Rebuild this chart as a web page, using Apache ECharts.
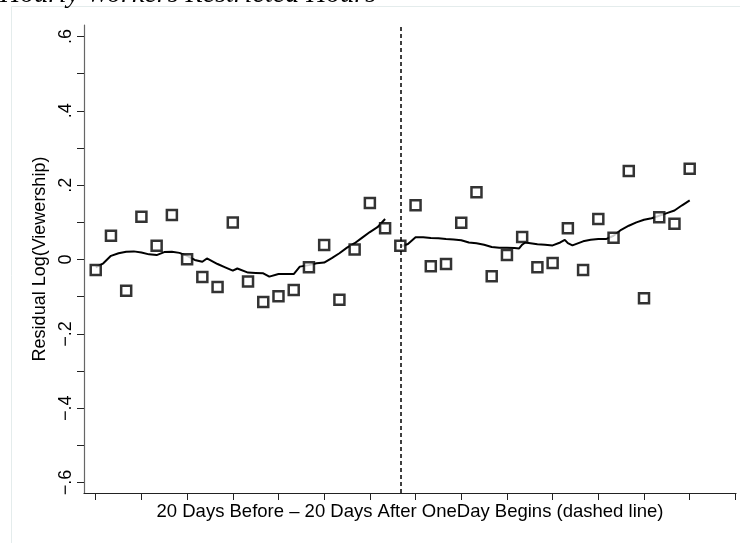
<!DOCTYPE html>
<html>
<head>
<meta charset="utf-8">
<script src="https://cdn.jsdelivr.net/npm/echarts@6/dist/echarts.min.js"></script>
<style>
  html, body { margin: 0; padding: 0; background: #fff; }
  #chart { width: 740px; height: 543px; }
</style>
</head>
<body>
<div id="chart"></div>
<script>
// days relative to OneDay start
const days = [-20, -19, -18, -17, -16, -15, -14, -13, -12, -11, -10, -9, -8, -7, -6, -5, -4, -3, -2, -1,
  0, 1, 2, 3, 4, 5, 6, 7, 8, 9, 10, 11, 12, 13, 14, 15, 16, 17, 18, 19]
// residual log(viewership), one per day
const residuals = [-0.028, 0.064, -0.084, 0.115, 0.037, 0.120, 0.001, -0.047, -0.074, 0.100,
  -0.059, -0.114, -0.099, -0.082, -0.021, 0.039, -0.108, 0.027, 0.152, 0.084,
  0.037, 0.146, -0.018, -0.012, 0.099, 0.181, -0.045, 0.012, 0.061, -0.021,
  -0.009, 0.084, -0.028, 0.109, 0.059, 0.238, -0.104, 0.114, 0.096, 0.244]

// smoothed fit before the start
const fitBeforeX = [-20, -19.5, -19, -18.5, -18, -17.5, -17, -16.5, -16, -15.5, -15, -14.5, -14, -13.5, -13, -12.7,
  -12, -11.5, -11, -10.7, -10, -9.5, -9, -8.6, -8, -7.5, -7, -6.6, -6, -5.5, -5, -4.5, -4, -3.5, -3, -2.5, -2, -1.5, -1]
const fitBeforeY = [-0.021, -0.010, 0.010, 0.017, 0.021, 0.022, 0.019, 0.014, 0.012, 0.020, 0.021, 0.018, 0.010, -0.001, -0.006, 0.003,
  -0.012, -0.021, -0.030, -0.024, -0.035, -0.036, -0.037, -0.046, -0.039, -0.039, -0.039, -0.019, -0.015, -0.010, -0.008, 0.004, 0.017, 0.032, 0.044, 0.059, 0.074, 0.087, 0.109]

// smoothed fit after the start
const fitAfterX = [0, 0.5, 1, 1.5, 2, 2.5, 3, 3.5, 4, 4.5, 5, 5.5, 6, 6.5, 7, 7.5, 7.8, 8, 8.2, 9, 9.5, 10, 10.5, 10.8,
  11, 11.3, 12, 12.5, 13, 13.5, 14, 14.5, 15, 15.5, 16, 16.5, 17, 17.5, 18, 18.5, 19]
const fitAfterY = [0.035, 0.042, 0.060, 0.060, 0.058, 0.057, 0.055, 0.054, 0.052, 0.046, 0.044, 0.040, 0.034, 0.032, 0.032, 0.031, 0.030, 0.040, 0.046, 0.041, 0.040, 0.038, 0.046, 0.053,
  0.044, 0.038, 0.049, 0.053, 0.055, 0.055, 0.064, 0.080, 0.091, 0.100, 0.107, 0.111, 0.118, 0.125, 0.132, 0.146, 0.159]

const xTicks = [-20, -17, -14, -11, -8, -5, -2, 1, 4, 7, 10, 13, 16, 19, 22]
const yTicks = [-0.6, -0.5, -0.4, -0.3, -0.2, -0.1, 0, 0.1, 0.2, 0.3, 0.4, 0.5, 0.6]
const yLabelValues = [-0.6, -0.4, -0.2, 0, 0.2, 0.4, 0.6]
const yLabelText = ['\u2212.6', '\u2212.4', '\u2212.2', '0', '.2', '.4', '.6']

const pair = (xs, ys) => xs.map((x, i) => [x, ys[i]])

const chart = echarts.init(document.getElementById('chart'), null, { renderer: 'canvas' })

const option = {
  animation: false,
  backgroundColor: '#ffffff',
  textStyle: { fontFamily: 'Liberation Sans' },
  graphic: [
    {
      type: 'rect',
      silent: true,
      shape: { x: 11.5, y: 6.5, width: 740, height: 560 },
      style: { fill: 'none', stroke: '#e4ecec', lineWidth: 1 }
    },
    {
      type: 'text',
      left: 0,
      top: -19,
      silent: true,
      style: {
        text: 'Hourly Workers Restricted Hours',
        font: 'italic 28px "Liberation Serif"',
        fill: '#000'
      }
    }
  ],
  grid: { left: 84, right: 4, top: 25, bottom: 50, containLabel: false },
  xAxis: {
    type: 'value',
    min: -20.77,
    max: 22.04,
    name: '20 Days Before \u2013 20 Days After OneDay Begins (dashed line)',
    nameLocation: 'middle',
    nameGap: 9,
    nameTextStyle: { fontSize: 18.5, color: '#000', fontFamily: 'Liberation Sans' },
    axisLine: { onZero: false, lineStyle: { color: '#222', width: 1.2 } },
    axisTick: { customValues: xTicks, length: 7, lineStyle: { color: '#222' } },
    axisLabel: { show: false },
    splitLine: { show: false }
  },
  yAxis: {
    type: 'value',
    min: -0.628,
    max: 0.631,
    name: 'Residual Log(Viewership)',
    nameLocation: 'middle',
    nameRotate: 90,
    nameGap: 33,
    nameTextStyle: { fontSize: 18, color: '#000', fontFamily: 'Liberation Sans' },
    axisLine: { show: true, onZero: false, lineStyle: { color: '#666', width: 1.2 } },
    axisTick: { customValues: yTicks, length: 7, lineStyle: { color: '#222' } },
    axisLabel: {
      customValues: yLabelValues,
      rotate: 90,
      margin: 9,
      fontSize: 18,
      color: '#000',
      fontFamily: 'Liberation Sans',
      formatter: v => {
        const i = yLabelValues.findIndex(t => Math.abs(t - v) < 1e-6)
        return i >= 0 ? yLabelText[i] : ''
      }
    },
    splitLine: { show: false }
  },
  series: [
    {
      name: 'fitBefore',
      type: 'line',
      showSymbol: false,
      data: pair(fitBeforeX, fitBeforeY),
      lineStyle: { color: '#000', width: 2 },
      z: 2
    },
    {
      name: 'fitAfter',
      type: 'line',
      showSymbol: false,
      data: pair(fitAfterX, fitAfterY),
      lineStyle: { color: '#000', width: 2 },
      z: 2,
      markLine: {
        silent: true,
        symbol: 'none',
        label: { show: false },
        lineStyle: { color: '#000', type: [4, 3], width: 1.5 },
        data: [{ xAxis: 0 }]
      }
    },
    {
      name: 'residuals',
      type: 'scatter',
      symbol: 'rect',
      symbolSize: 10,
      data: pair(days, residuals),
      itemStyle: { color: '#fff', borderColor: '#000', borderWidth: 2.5 },
      z: 3
    }
  ]
}
chart.setOption(option)
</script>
</body>
</html>
